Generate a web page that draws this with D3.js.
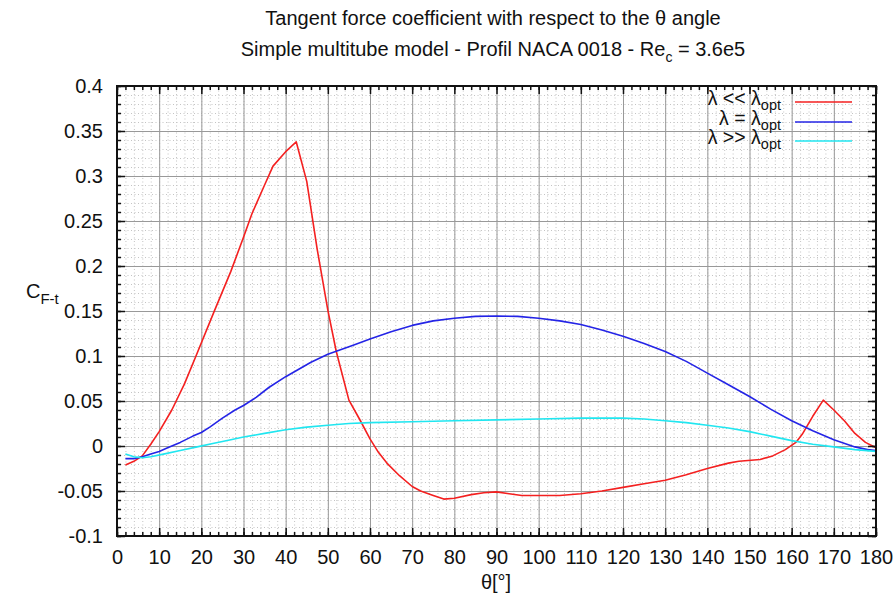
<!DOCTYPE html>
<html>
<head>
<meta charset="utf-8">
<script src="https://cdn.jsdelivr.net/npm/d3@7"></script>
<style>
  html, body { margin: 0; padding: 0; background: #fff; }
  svg { display: block; }
  text { font-family: "Liberation Sans", Arial, Helvetica, sans-serif; fill: #111; }
</style>
</head>
<body>
<svg id="chart" width="896" height="599"></svg>
<script>
// ---------- data ----------
const thetaRed = [2,4,6,8,10,13,16,19,23,27,30,32,35,37,40,42.5,45,47.5,50,52,55,57.5,60,62,64,67,70,72,75,77.5,80,84,87,90,93,96,100,105,110,115,120,125,130,135,140,145,147.5,152.5,155.5,158.5,161,162.5,165,167.5,170,172.5,175,177.5,180];
const valRed   = [-0.021,-0.017,-0.011,0.002,0.016,0.040,0.069,0.103,0.149,0.194,0.232,0.258,0.290,0.311,0.327,0.338,0.294,0.218,0.151,0.105,0.051,0.030,0.008,-0.007,-0.019,-0.033,-0.045,-0.050,-0.055,-0.059,-0.058,-0.054,-0.052,-0.051,-0.053,-0.055,-0.055,-0.055,-0.053,-0.050,-0.046,-0.042,-0.038,-0.032,-0.025,-0.019,-0.017,-0.015,-0.011,-0.004,0.004,0.013,0.033,0.051,0.040,0.028,0.014,0.004,-0.002];

const thetaBlue = [2,4,6,8,10,12,15,18,20,22,25,28,30,33,36,40,43,46,50,53,56,60,65,70,75,80,85,90,95,100,105,110,115,120,125,130,135,140,145,150,155,160,165,170,175,178,180];
const valBlue   = [-0.014,-0.014,-0.012,-0.009,-0.006,-0.002,0.004,0.011,0.015,0.021,0.031,0.040,0.045,0.054,0.065,0.077,0.085,0.093,0.102,0.107,0.112,0.119,0.127,0.134,0.139,0.142,0.144,0.1445,0.144,0.142,0.139,0.135,0.129,0.122,0.114,0.105,0.094,0.081,0.068,0.055,0.041,0.028,0.017,0.007,-0.001,-0.004,-0.005];

const thetaCyan = [2,4,6,8,11,15,19,23,27,30,35,40,45,50,55,60,70,80,90,100,110,120,125,130,135,140,145,150,155,160,165,170,175,180];
const valCyan   = [-0.009,-0.012,-0.013,-0.012,-0.009,-0.005,-0.001,0.003,0.007,0.010,0.014,0.018,0.021,0.023,0.025,0.026,0.027,0.028,0.029,0.030,0.031,0.031,0.030,0.028,0.026,0.023,0.020,0.016,0.011,0.006,0.002,-0.001,-0.004,-0.006];

const xTicks = [0,10,20,30,40,50,60,70,80,90,100,110,120,130,140,150,160,170,180];
const yTicks = [-0.1,-0.05,0,0.05,0.1,0.15,0.2,0.25,0.3,0.35,0.4];
const yTickLabels = ["-0.1","-0.05","0","0.05","0.1","0.15","0.2","0.25","0.3","0.35","0.4"];
const xMinor = d3.range(0, 180.001, 2);
const yMinor = d3.range(-0.1, 0.4001, 0.01).map(v => +v.toFixed(3));

const seriesNames = ["<<", "=", ">>"];
const seriesColors = ["#f42020", "#2424e6", "#20e6f0"];

// ---------- layout ----------
const svg = d3.select("#chart");
const L = 117, R = 876, T = 86, B = 536;
const W = R - L, H = B - T;
const FS = 20;

const x = d3.scaleLinear().domain([0, 180]).range([L, R]);
const y = d3.scaleLinear().domain([-0.1, 0.4]).range([B, T]);

// minor grid (dotted)
const g = svg.append("g");
g.append("g").attr("transform", `translate(0,${B})`)
  .call(d3.axisBottom(x).tickValues(xMinor).tickSize(-H).tickFormat(""))
  .call(s => s.select(".domain").remove())
  .call(s => s.selectAll("line").attr("stroke", "#c4c4c4").attr("stroke-dasharray", "1,2.5"));
g.append("g").attr("transform", `translate(${L},0)`)
  .call(d3.axisLeft(y).tickValues(yMinor).tickSize(-W).tickFormat(""))
  .call(s => s.select(".domain").remove())
  .call(s => s.selectAll("line").attr("stroke", "#c4c4c4").attr("stroke-dasharray", "1,2.5"));

// major grid
g.append("g").attr("transform", `translate(0,${B})`)
  .call(d3.axisBottom(x).tickValues(xTicks).tickSize(-H).tickFormat(""))
  .call(s => s.select(".domain").remove())
  .call(s => s.selectAll("line").attr("stroke", "#999").attr("stroke-width", 1));
g.append("g").attr("transform", `translate(${L},0)`)
  .call(d3.axisLeft(y).tickValues(yTicks).tickSize(-W).tickFormat(""))
  .call(s => s.select(".domain").remove())
  .call(s => s.selectAll("line").attr("stroke", "#999").attr("stroke-width", 1));

// curves
const xsArr = [thetaRed, thetaBlue, thetaCyan];
const ysArr = [valRed, valBlue, valCyan];
const line = d3.line().x(d => x(d[0])).y(d => y(d[1]));
for (let i = 0; i < 3; i++) {
  const pts = xsArr[i].map((t, k) => [t, ysArr[i][k]]);
  svg.append("path").datum(pts).attr("d", line)
    .attr("fill", "none").attr("stroke", seriesColors[i]).attr("stroke-width", 1.6)
    .attr("stroke-linejoin", "round");
}

// ticks on all four sides (inward)
function styleTicks(s) {
  s.select(".domain").remove();
  s.selectAll("line").attr("stroke", "#111").attr("stroke-width", 1.5);
}
// bottom
svg.append("g").attr("transform", `translate(0,${B})`)
  .call(d3.axisBottom(x).tickValues(xMinor).tickSize(-4).tickFormat("")).call(styleTicks);
const xAxis = svg.append("g").attr("transform", `translate(0,${B})`)
  .call(d3.axisBottom(x).tickValues(xTicks).tickSize(-8).tickPadding(14).tickFormat(d3.format("d")))
  .call(styleTicks);
xAxis.selectAll("text").attr("font-size", FS).attr("font-family", '"Liberation Sans", Arial, sans-serif').attr("fill", "#111");
// top
svg.append("g").attr("transform", `translate(0,${T})`)
  .call(d3.axisTop(x).tickValues(xMinor).tickSize(-4).tickFormat("")).call(styleTicks);
svg.append("g").attr("transform", `translate(0,${T})`)
  .call(d3.axisTop(x).tickValues(xTicks).tickSize(-8).tickFormat("")).call(styleTicks);
// left
svg.append("g").attr("transform", `translate(${L},0)`)
  .call(d3.axisLeft(y).tickValues(yMinor).tickSize(-4).tickFormat("")).call(styleTicks);
const yAxis = svg.append("g").attr("transform", `translate(${L},0)`)
  .call(d3.axisLeft(y).tickValues(yTicks).tickSize(-8).tickPadding(14)
    .tickFormat((d, i) => yTickLabels[i]))
  .call(styleTicks);
yAxis.selectAll("text").attr("font-size", FS).attr("font-family", '"Liberation Sans", Arial, sans-serif').attr("fill", "#111");
// right
svg.append("g").attr("transform", `translate(${R},0)`)
  .call(d3.axisRight(y).tickValues(yMinor).tickSize(-4).tickFormat("")).call(styleTicks);
svg.append("g").attr("transform", `translate(${R},0)`)
  .call(d3.axisRight(y).tickValues(yTicks).tickSize(-8).tickFormat("")).call(styleTicks);

// frame
svg.append("rect").attr("x", L).attr("y", T).attr("width", W).attr("height", H)
  .attr("fill", "none").attr("stroke", "#111").attr("stroke-width", 2);

// titles
const cx = 493;
svg.append("text").attr("x", cx).attr("y", 25).attr("text-anchor", "middle").attr("font-size", FS)
  .text("Tangent force coefficient with respect to the θ angle");
const t2 = svg.append("text").attr("x", cx).attr("y", 56).attr("text-anchor", "middle").attr("font-size", FS);
t2.append("tspan").text("Simple multitube model - Profil NACA 0018 - Re");
t2.append("tspan").attr("font-size", 14).attr("dy", 6).text("c");
t2.append("tspan").attr("dy", -6).text(" = 3.6e5");

// axis labels
const yl = svg.append("text").attr("x", 26).attr("y", 298).attr("font-size", FS);
yl.append("tspan").text("C");
yl.append("tspan").attr("font-size", 15).attr("dy", 6).text("F-t");
svg.append("text").attr("x", 496).attr("y", 589).attr("text-anchor", "middle").attr("font-size", FS)
  .text("θ[°]");

// legend
const legY = [102, 122, 141];
for (let i = 0; i < 3; i++) {
  const t = svg.append("text").attr("x", 781).attr("y", legY[i] + 2.5).attr("text-anchor", "end").attr("font-size", 19.5);
  t.append("tspan").text("λ " + seriesNames[i] + " λ");
  t.append("tspan").attr("font-size", 14.5).attr("dy", 5).text("opt");
  svg.append("line").attr("x1", 795).attr("x2", 852).attr("y1", legY[i]).attr("y2", legY[i])
    .attr("stroke", seriesColors[i]).attr("stroke-width", 1.6);
}
</script>
</body>
</html>
